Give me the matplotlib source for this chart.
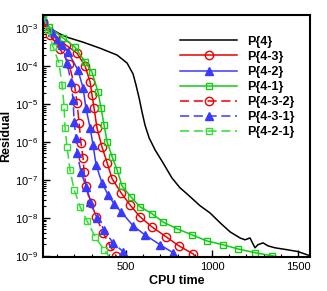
import numpy as np
import matplotlib
matplotlib.use('Agg')
import matplotlib.pyplot as plt
from matplotlib.ticker import LogLocator, MultipleLocator, NullFormatter

plt.rcParams['font.family'] = ['Liberation Sans', 'DejaVu Sans']

# CPU time and log10(residual)
p4_t = [17, 35, 58, 105, 157, 250, 349, 448, 506, 541, 558, 576, 593, 610, 634, 669, 715, 767,
        814, 855, 930, 988, 1047, 1105, 1163, 1192, 1221, 1250, 1267, 1297, 1326, 1366, 1436, 1500, 1570]
p4_r = [-2.66, -2.89, -3.00, -3.13, -3.24, -3.37, -3.53, -3.71, -3.92, -4.21, -4.50, -4.84, -5.21,
        -5.55, -5.89, -6.21, -6.55, -6.95, -7.21, -7.37, -7.68, -7.87, -8.13, -8.37, -8.53, -8.58,
        -8.53, -8.79, -8.71, -8.66, -8.74, -8.79, -8.84, -8.89, -9.00]

# last point of each marked series is the line end (no symbol)
p43_t = [17, 87, 151, 215, 262, 291, 302, 314, 331, 360, 390, 419, 471, 523, 581, 651, 733, 808, 890, 905]
p43_r = [-2.84, -3.21, -3.45, -3.66, -4.00, -4.42, -4.76, -5.11, -5.63, -6.13, -6.55, -6.97, -7.34,
         -7.66, -7.97, -8.24, -8.50, -8.74, -8.95, -9.03]

p42_t = [17, 99, 163, 221, 250, 267, 291, 308, 326, 360, 395, 430, 471, 541, 610, 698, 773, 800]
p42_r = [-2.74, -3.32, -3.63, -4.11, -4.58, -5.11, -5.63, -6.08, -6.61, -7.08, -7.39, -7.63, -7.84,
         -8.21, -8.45, -8.71, -8.92, -9.03]

p41_t = [17, 52, 134, 203, 262, 302, 337, 355, 372, 390, 419, 448, 477, 529, 581, 651, 715, 797,
         884, 971, 1064, 1151, 1250, 1349, 1384]
p41_r = [-2.66, -2.97, -3.26, -3.50, -3.89, -4.16, -4.68, -5.11, -5.55, -6.00, -6.39, -6.74, -7.16,
         -7.45, -7.71, -7.89, -8.11, -8.29, -8.45, -8.61, -8.71, -8.82, -8.92, -9.00, -9.03]

p432_t = [17, 58, 116, 169, 203, 215, 227, 238, 250, 256, 267, 297, 326, 366, 407, 442, 450]
p432_r = [-2.84, -3.18, -3.55, -3.95, -4.58, -4.97, -5.50, -6.03, -6.42, -6.79, -7.16, -7.61, -7.97,
          -8.39, -8.74, -9.00, -9.05]

p431_t = [17, 70, 128, 157, 180, 192, 198, 209, 215, 238, 267, 291, 331, 372, 424, 483, 523]
p431_r = [-2.74, -3.11, -3.45, -3.92, -4.42, -4.89, -5.47, -5.89, -6.29, -6.79, -7.18, -7.58, -8.00,
          -8.32, -8.66, -8.89, -9.03]

p421_t = [17, 47, 76, 110, 128, 140, 145, 157, 174, 198, 233, 273, 320, 372, 407]
p421_r = [-2.66, -3.05, -3.50, -3.92, -4.50, -5.08, -5.63, -6.13, -6.74, -7.26, -7.71, -8.08, -8.50,
          -8.84, -9.05]

red = '#ee0000'
blue = '#3a3aff'
green = '#11cc11'
green2 = '#33dd33'

fig = plt.figure(figsize=(3.27, 2.91), dpi=100)
ax = fig.add_axes([0.1315, 0.117, 0.8165, 0.831])

ms = 6
dash = (0, (6, 3))
ax.plot(p4_t, 10.0 ** np.array(p4_r), color='black', lw=1.1, label='P{4}')
ax.plot(p43_t, 10.0 ** np.array(p43_r), color=red, lw=1.1, marker='o', ms=ms, mfc='none',
        mec=red, mew=1.0, markevery=slice(0, -1), label='P{4-3}')
ax.plot(p42_t, 10.0 ** np.array(p42_r), color=blue, lw=1.1, marker='^', ms=ms - 0.5, mfc=blue,
        mec=blue, markevery=slice(0, -1), label='P{4-2}')
ax.plot(p41_t, 10.0 ** np.array(p41_r), color=green, lw=1.1, marker='s', ms=ms - 1.5, mfc='none',
        mec=green, mew=1.0, markevery=slice(0, -1), label='P{4-1}')
ax.plot(p432_t, 10.0 ** np.array(p432_r), color=red, lw=1.1, ls=dash, marker='o', ms=ms,
        mfc='none', mec=red, mew=1.0, markevery=slice(0, -1), label='P{4-3-2}')
ax.plot(p431_t, 10.0 ** np.array(p431_r), color=blue, lw=1.1, ls=dash, marker='^',
        ms=ms - 0.5, mfc=blue, mec=blue, markevery=slice(0, -1), label='P{4-3-1}')
ax.plot(p421_t, 10.0 ** np.array(p421_r), color=green2, lw=1.1, ls=dash, marker='s',
        ms=ms - 1.5, mfc='none', mec=green2, mew=1.0, markevery=slice(0, -1), label='P{4-2-1}')

ax.set_yscale('log')
ax.set_xlim(17, 1570)
ax.set_ylim(9.3e-10, 2.2e-3)
ax.xaxis.set_major_locator(MultipleLocator(500))
ax.xaxis.set_minor_locator(MultipleLocator(100))
ax.yaxis.set_major_locator(LogLocator(base=10, numticks=20))
ax.yaxis.set_minor_locator(LogLocator(base=10, subs=np.arange(2, 10), numticks=20))
ax.yaxis.set_minor_formatter(NullFormatter())
ax.tick_params(which='both', direction='in', top=False, right=False, labelsize=8)
ax.tick_params(which='major', length=5, width=1)
ax.tick_params(which='minor', length=2.5, width=0.8)
for s in ax.spines.values():
    s.set_linewidth(1.5)

ax.set_xlabel('CPU time', fontsize=9, fontweight='bold', labelpad=2)
ax.set_ylabel('Residual', fontsize=9, fontweight='bold', labelpad=2)

leg = ax.legend(loc='upper left', bbox_to_anchor=(0.513, 0.915), frameon=False, fontsize=9,
                handlelength=4.6, handletextpad=0.8, labelspacing=0.25, borderpad=0,
                borderaxespad=0, numpoints=1)
for t in leg.get_texts():
    t.set_fontweight('bold')

fig.savefig('out.png', dpi=100)
